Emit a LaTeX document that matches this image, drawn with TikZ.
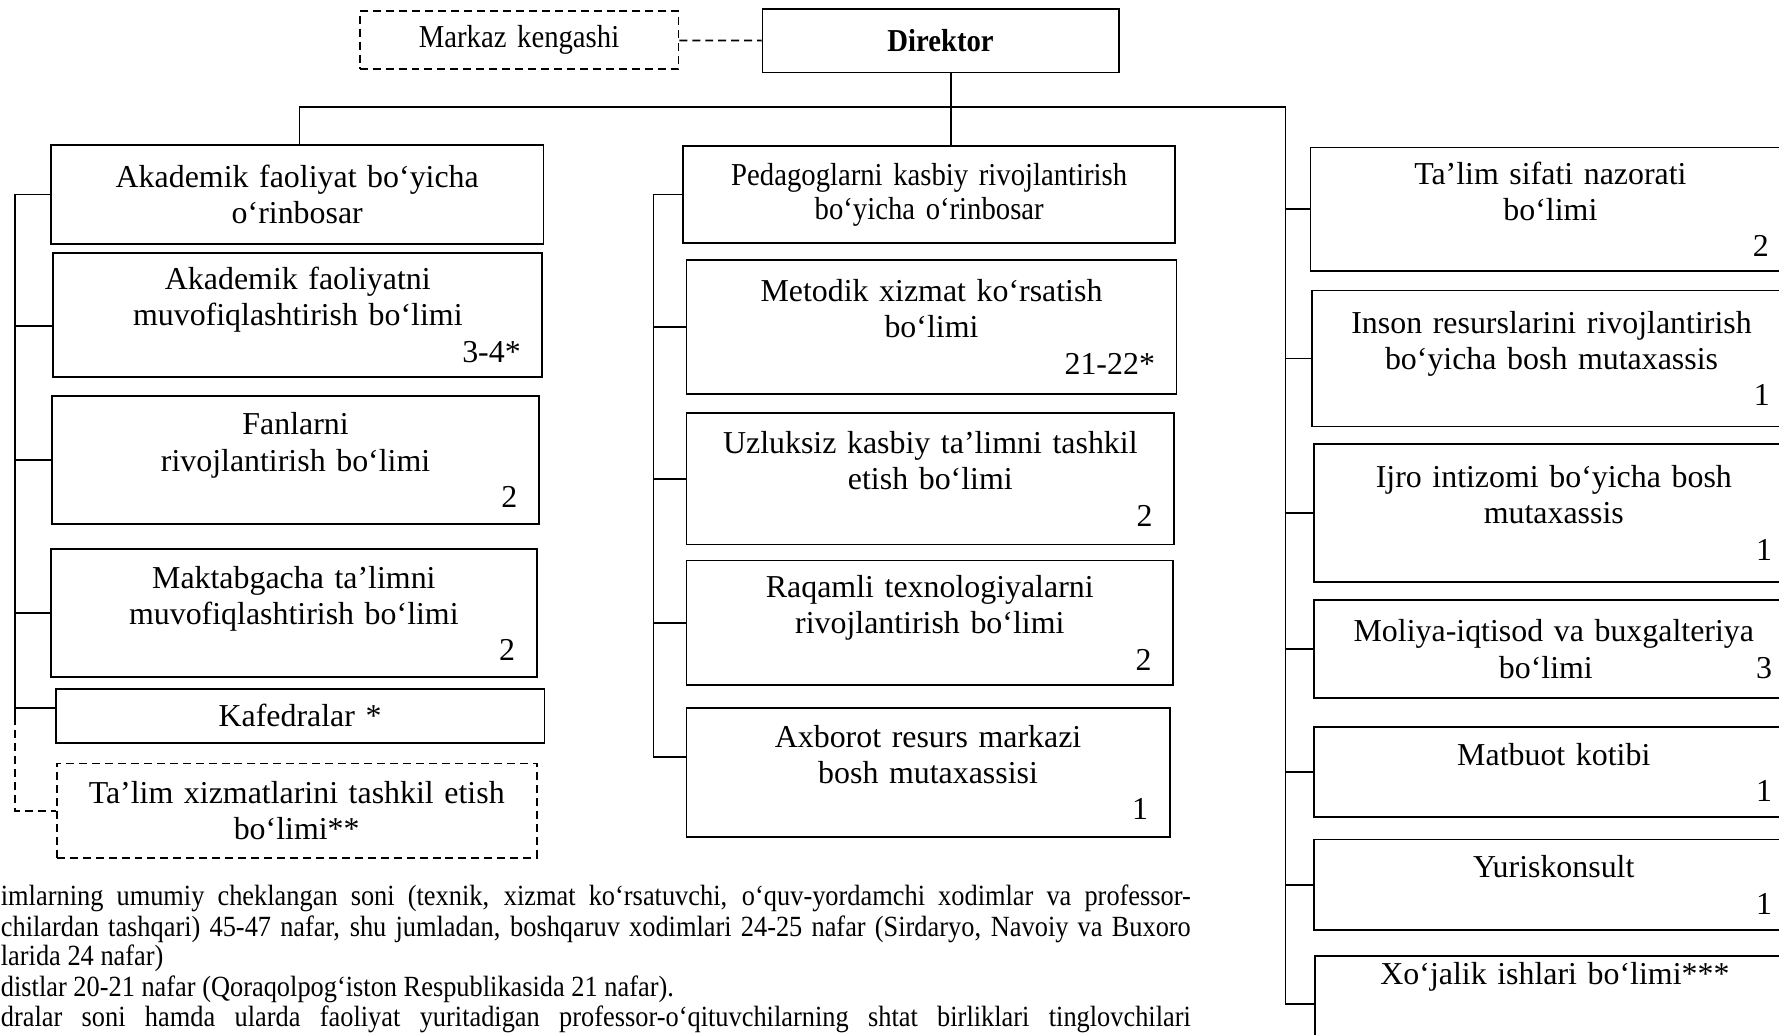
\documentclass[tikz,border=0pt]{standalone}
\usepackage{fontspec}
\usepackage{tikz}
\setmainfont{Liberation Serif}
\newfontfamily\narrowfont[FakeStretch=0.9]{Liberation Serif}
\newcommand*{\soni}[1]{\\\hfill#1}

\begin{document}
\begin{tikzpicture}[x=0.02cm, y=-0.02cm, line width=0.9pt,
	bolim/.style={draw, align=center, inner xsep=0.38cm, font=\fontsize{16}{18.2}\selectfont},
	tor/.style={draw, dash pattern=on 4pt off 2.5pt},
	izoh/.style={inner sep=0pt, anchor=base west, font=\narrowfont\fontsize{14.7}{15.2}\selectfont}]
		\useasboundingbox (0,0) rectangle (1568,912);
		\clip (0,0) rectangle (1568,912);
		
		\node[bolim, tor, text width=4.86cm, minimum height=1.02cm, font=\narrowfont\fontsize{16}{18.2}\selectfont] (K) at (457.5,35.5) {Markaz kengashi};
		\node[bolim, text width=5.52cm, minimum height=1.12cm, font=\narrowfont\bfseries\fontsize{16}{18.2}\selectfont] (D) at (829,36) {Direktor};
		
		\node[bolim, text width=7.92cm, minimum height=1.74cm] (A0) at (262,171.5) {Akademik faoliyat bo‘yicha\\o‘rinbosar};
		\node[bolim, text width=7.86cm, minimum height=2.18cm] (A1) at (262.5,277.5) {Akademik faoliyatni\\muvofiqlashtirish bo‘limi\soni{3-4*}};
		\node[bolim, text width=7.82cm, minimum height=2.26cm] (A2) at (260.5,405.5) {Fanlarni\\rivojlantirish bo‘limi\soni{2}};
		\node[bolim, text width=7.80cm, minimum height=2.26cm] (A3) at (259,540.5) {Maktabgacha ta’limni\\muvofiqlashtirish bo‘limi\soni{2}};
		\node[bolim, text width=7.86cm, minimum height=0.96cm] (A4) at (264.5,631) {Kafedralar *};
		\node[bolim, tor, text width=7.70cm, minimum height=1.66cm] (A5) at (261.5,714.5) {Ta’lim xizmatlarini tashkil etish\\bo‘limi**};
		
		\node[bolim, text width=7.92cm, minimum height=1.70cm, font=\narrowfont\fontsize{16}{17}\selectfont] (P0) at (819,171.5) {Pedagoglarni kasbiy rivojlantirish\\bo‘yicha o‘rinbosar};
		\node[bolim, text width=7.88cm, minimum height=2.36cm] (P1) at (821,288) {Metodik xizmat ko‘rsatish\\bo‘limi\soni{21-22*}};
		\node[bolim, text width=7.84cm, minimum height=2.32cm] (P2) at (820,422) {Uzluksiz kasbiy ta’limni tashkil\\etish bo‘limi\soni{2}};
		\node[bolim, text width=7.82cm, minimum height=2.20cm] (P3) at (819.5,549) {Raqamli texnologiyalarni\\rivojlantirish bo‘limi\soni{2}};
		\node[bolim, text width=7.76cm, minimum height=2.28cm] (P4) at (818,681) {Axborot resurs markazi\\bosh mutaxassisi\soni{1}};
		
		\node[bolim, text width=7.70cm, minimum height=2.18cm] (B0) at (1366.5,184.5) {Ta’lim sifati nazorati\\bo‘limi\soni{2}};
		\node[bolim, text width=7.70cm, minimum height=2.40cm] (B1) at (1367.5,316) {Inson resurslarini rivojlantirish\\bo‘yicha bosh mutaxassis\soni{1}};
		\node[bolim, text width=7.70cm, minimum height=2.44cm] (B2) at (1369.5,452) {Ijro intizomi bo‘yicha bosh\\mutaxassis\soni{1}};
		\node[bolim, text width=7.70cm, minimum height=1.72cm] (B3) at (1369.5,572) {Moliya-iqtisod va buxgalteriya\\\hfill bo‘limi\hfill 3};
		\node[bolim, text width=7.70cm, minimum height=1.58cm] (B4) at (1369.5,680.5) {Matbuot kotibi\soni{1}};
		\node[bolim, text width=7.70cm, minimum height=1.60cm] (B5) at (1369.5,780) {Yuriskonsult\soni{1}};
		\node[bolim, text width=7.70cm, text depth=1.6cm, anchor=north] (B6) at (1370.5,842) {Xo‘jalik ishlari bo‘limi***};
		
		\coordinate (H1) at (264,94);
		\coordinate (H2) at (838,94);
		\coordinate (H3) at (1133,94);
		\coordinate (H4) at (1133,885);
		\coordinate (L) at (13,632);
		\coordinate (M) at (576,0);
		\coordinate (A1s) at ([yshift=-0.19cm]A1.west);
		\coordinate (A4s) at ([yshift=0.14cm]A4.west);
		\coordinate (P4s) at ([yshift=0.28cm]P4.west);
		
		\draw[tor] (K) -- (D);
		\draw (D.south -| H2) -- (P0.north -| H2);
		\draw (A0.north -| H1) -- (H1) -- (H3) -- (H4) -- (H4 -| B6.west);
		\draw (B0.west -| H3) -- (B0.west);
		\draw (B1.west -| H3) -- (B1.west);
		\draw (B2.west -| H3) -- (B2.west);
		\draw (B3.west -| H3) -- (B3.west);
		\draw (B4.west -| H3) -- (B4.west);
		\draw (B5.west -| H3) -- (B5.west);
		
		\draw (A0.west) -- (A0.west -| L) -- (L);
		\draw (A1s) -- (A1s -| L);
		\draw (A2.west) -- (A2.west -| L);
		\draw (A3.west) -- (A3.west -| L);
		\draw (A4s) -- (A4s -| L);
		\draw[tor] (L) -- (L |- A5.west) -- (A5.west);
		
		\draw (P0.west) -- (P0.west -| M) -- (P4s -| M) -- (P4s);
		\draw (P1.west) -- (P1.west -| M);
		\draw (P2.west) -- (P2.west -| M);
		\draw (P3.west) -- (P3.west -| M);
		
		\node[izoh] (N1) at (0,798) {\makebox[20.98cm][s]{imlarning umumiy cheklangan soni (texnik, xizmat ko‘rsatuvchi, o‘quv-yordamchi xodimlar va professor-}};
		\node[izoh] (N2) at (0,825) {\makebox[20.98cm][s]{chilardan tashqari) 45-47 nafar, shu jumladan, boshqaruv xodimlari 24-25 nafar (Sirdaryo, Navoiy va Buxoro}};
		\node[izoh] (N3) at (0,851) {larida 24 nafar)};
		\node[izoh] (N4) at (0,878) {distlar 20-21 nafar (Qoraqolpog‘iston Respublikasida 21 nafar).};
		\node[izoh] (N5) at (0,905) {\makebox[20.98cm][s]{dralar soni hamda ularda faoliyat yuritadigan professor-o‘qituvchilarning shtat birliklari tinglovchilari}};
\end{tikzpicture}
\end{document}
